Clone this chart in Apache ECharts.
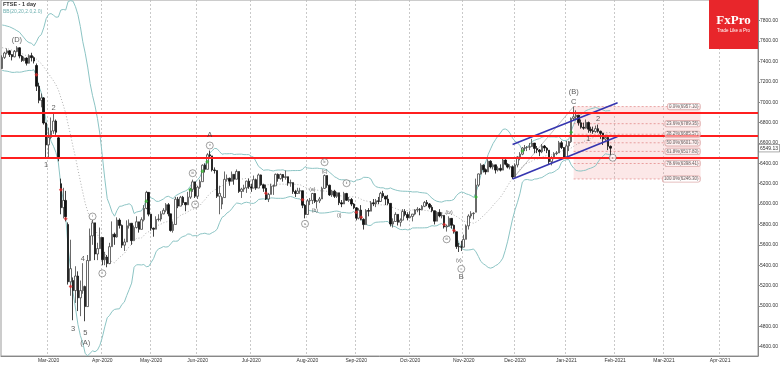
<!DOCTYPE html>
<html><head><meta charset="utf-8">
<script src="https://cdn.jsdelivr.net/npm/echarts@6/dist/echarts.min.js"></script>
<style>html,body{margin:0;padding:0;background:#fff}#c{width:782px;height:366px}</style>
</head><body><div id="c"></div>
<script>
// ---- calendar (UK trading days) ----
const startDate = '2020-02-04', endDate = '2021-04-26';
const holidays = ['2020-04-10','2020-04-13','2020-05-08','2020-05-25','2020-08-31','2020-12-25','2020-12-28','2021-01-01','2021-04-02','2021-04-05'];
const monthNames = ['Jan','Feb','Mar','Apr','May','Jun','Jul','Aug','Sep','Oct','Nov','Dec'];
// closes of the 20 sessions before the first visible candle (for BB warm-up)
const warmupCloses = [7573,7575,7598,7588,7618,7622,7642,7610,7675,7651,7642,7571,7507,7586,7412,7481,7484,7381,7286,7326];
// ---- daily OHLC, 2020-02-04 .. 2021-01-28 ----
const opens = [
7330,7440,7483,7504,7467,7446,7499,7534,7453,7409,7433,7382,7457,7437,7360,7157,7018,7042,6796,
6581,6654,6718,6815,6650,6200,5965,6036,5800,5237,5250,5151,5294,5080,5151,5191,4994,5446,5688,5816,5510,5563,
5672,5454,5480,5416,5582,5704,5678,5843,5791,5597,5628,5787,5812,5641,5770,5826,5752,5847,5958,6115,
5901,5763,5753,5849,5853,5904,5939,5994,5904,5741,5800,6048,5980,6067,6015,5993,6068,6145,6218,
6077,6166,6220,6382,6341,6484,6473,6335,6329,6077,6000,6064,6243,6253,6224,6292,6244,6320,6124,6147,6159,6225,
6170,6157,6240,6157,6286,6189,6156,6050,6095,6176,6179,6292,6250,6290,6261,6269,6207,6211,6123,6104,6129,6131,5989,
5898,6032,6036,6104,6026,6032,6050,6154,6280,6185,6090,6127,6076,6111,6013,6001,6104,6037,6045,6000,
5963,5862,5941,5850,5799,5937,5930,6012,6003,6032,6026,6105,6078,6049,6007,5804,5829,5899,5822,5842,5927,5897,
5866,5879,5902,5942,5949,5946,5978,6016,6001,5969,5935,5832,5919,5884,5889,5776,5785,5860,5792,5729,5583,5581,
5577,5654,5786,5883,5906,5920,6186,6296,6382,6338,6316,6421,6365,6385,6334,6351,6333,6432,6391,6363,6367,
6266,6384,6463,6490,6550,6555,6558,6564,6599,6546,6531,6513,6570,6550,6529,6416,6453,6495,6502,6602,6555,
6460,6571,6612,6841,6857,6873,6798,6754,6745,6801,6735,6720,6712,6740,6715,6695,6638,6654,6567];
const highs = [
7460,7495,7528,7510,7470,7512,7550,7538,7462,7448,7440,7470,7485,7450,7380,7190,7085,7050,6800,
6750,6850,6890,6830,6660,6250,6160,6130,5820,5650,5280,5390,5340,5250,5420,5200,5500,5760,5850,5816,5620,5770,
5672,5530,5500,5620,5830,5720,5870,5860,5800,5660,5840,5850,5812,5790,5880,5826,5870,5990,6130,6115,
5901,5770,5880,5900,5930,5960,6010,6010,5904,5830,6070,6070,6080,6080,6015,6120,6160,6240,6218,
6180,6240,6390,6400,6500,6525,6473,6360,6329,6180,6080,6320,6290,6260,6320,6292,6340,6320,6160,6190,6230,6250,
6200,6280,6250,6300,6290,6200,6190,6110,6200,6190,6300,6300,6300,6295,6330,6269,6240,6211,6140,6160,6160,6131,6000,
6050,6060,6110,6110,6040,6070,6170,6290,6280,6190,6140,6140,6120,6111,6040,6120,6110,6070,6060,6010,
5970,5960,5990,5860,5950,5960,6030,6050,6050,6070,6120,6130,6080,6090,6007,5860,5920,5899,5860,5950,5950,5920,
5930,5900,5950,5970,5960,5990,6030,6040,6010,5990,5935,5930,5950,5920,5889,5800,5880,5860,5800,5729,5620,5640,
5700,5800,5900,5930,5920,6250,6300,6400,6390,6350,6440,6430,6400,6385,6370,6390,6460,6440,6400,6390,6380,
6400,6470,6510,6560,6580,6570,6600,6640,6599,6570,6540,6590,6580,6560,6529,6470,6510,6520,6620,6620,6560,
6620,6620,6850,6957,6920,6873,6830,6800,6830,6810,6760,6760,6770,6780,6720,6700,6680,6665,6575];
const lows = [
7326,7425,7470,7444,7410,7440,7490,7430,7395,7400,7360,7380,7400,7380,7110,6990,6950,6780,6450,
6460,6640,6690,6680,6420,5900,5860,5830,5210,5100,4860,5030,4950,4900,5120,4850,4994,5440,5600,5450,5450,5560,
5400,5400,5380,5410,5580,5600,5670,5760,5570,5540,5628,5760,5600,5641,5760,5720,5752,5830,5950,5880,
5740,5680,5753,5830,5830,5900,5920,5880,5730,5720,5800,5960,5980,5990,5930,5993,6050,6120,6060,
6050,6150,6220,6310,6341,6450,6320,6300,6060,5900,5950,6064,6220,6180,6224,6190,6244,6110,6060,6120,6110,6150,
6120,6157,6140,6157,6180,6120,6040,6020,6095,6090,6179,6220,6240,6220,6240,6180,6170,6100,6070,6100,6100,5960,5860,
5898,5990,6000,6010,5960,6010,6050,6150,6160,6080,6070,6060,6060,5990,5970,6001,6030,6020,5980,5950,
5840,5850,5840,5750,5799,5880,5930,5980,5970,6000,6020,6060,5990,5990,5780,5770,5829,5790,5780,5842,5880,5840,
5860,5830,5890,5920,5890,5940,5970,5980,5950,5920,5800,5832,5870,5860,5760,5730,5780,5760,5710,5560,5530,5540,
5577,5654,5750,5860,5850,5920,6170,6290,6310,6290,6316,6350,6340,6300,6320,6320,6333,6380,6350,6340,6246,
6266,6360,6430,6480,6520,6520,6530,6560,6500,6500,6470,6500,6520,6500,6390,6380,6440,6480,6502,6540,6450,
6460,6520,6600,6820,6830,6770,6740,6730,6740,6700,6700,6690,6700,6700,6640,6580,6620,6530,6447];
const closes = [
7439,7483,7504,7467,7446,7499,7534,7453,7409,7433,7382,7457,7437,7404,7157,7018,7042,6796,6581,
6654,6718,6815,6705,6463,5965,6036,5876,5237,5366,5151,5294,5080,5151,5191,4994,5446,5688,5816,5510,5563,5672,
5454,5480,5416,5582,5704,5678,5843,5791,5597,5628,5787,5812,5641,5770,5826,5752,5847,5958,6115,5901,
5763,5753,5849,5853,5904,5939,5994,5904,5741,5800,6048,5980,6067,6015,5993,6068,6145,6218,6077,
6166,6220,6382,6341,6484,6473,6335,6329,6077,6105,6064,6243,6253,6224,6292,6244,6320,6124,6147,6159,6225,6170,
6157,6240,6157,6286,6189,6156,6050,6095,6176,6179,6292,6250,6290,6261,6269,6207,6211,6123,6104,6129,6131,5989,5898,
6032,6036,6104,6026,6032,6050,6154,6280,6185,6090,6127,6076,6111,6013,6001,6104,6037,6045,6000,5963,
5862,5941,5850,5799,5937,5930,6012,6003,6032,6026,6105,6078,6049,6007,5804,5829,5899,5822,5842,5927,5897,5866,
5879,5902,5942,5949,5946,5978,6016,6001,5969,5935,5832,5919,5884,5889,5776,5785,5860,5792,5729,5583,5581,5577,
5654,5786,5883,5906,5910,6186,6296,6382,6338,6316,6421,6365,6385,6334,6351,6333,6432,6391,6363,6367,6266,
6384,6463,6490,6550,6555,6558,6564,6599,6546,6531,6513,6570,6550,6529,6416,6453,6495,6502,6602,6555,6460,
6571,6612,6841,6857,6873,6798,6754,6745,6801,6735,6720,6712,6740,6715,6695,6638,6654,6567,6549];
// ---- axis ticks ----
const yTickValues = [4600,4800,5000,5200,5400,5600,5800,6000,6200,6400,6600,6800,7000,7200,7400,7600,7800];
// ---- drawn objects (index = trading-day index from 2020-02-04) ----
const redLevels = [6895, 6667, 6451];
const fibNames = ['0.0%','23.6%','38.2%','50.0%','61.8%','78.6%','100.0%'];
const fibLevels = [6957.10, 6789.35, 6685.57, 6601.70, 6517.83, 6398.41, 6246.30];
const fibStartIdx = 234, fibEndIdx = 286;
const channelLower = [[209, 6246.3], [252, 6664]];
const channelUpper = [[209, 6585], [252, 6995]];
const waveLine = [[209, 6246.3], [234, 6957]];
const currentPrice = 6549.13;
const bigLabels = [[6,7607,'(D)'],[18,6389,'1'],[21,6939,'2'],[29,4777,'3'],[33,5465,'4'],[34,4738,'5'],[34,4639,'(A)'],
  [85,6674,'A'],[188,5281,'B'],[234,7001,'C'],[234,7099,'(B)'],[244,6831,'2'],[240,6641,'1']];
const circleLabels = [[37,5878,'i'],[41,5320,'ii'],[78,6303,'iii'],[79,5996,'iv'],[85,6575,'v'],[124,5806,'a'],
  [132,6411,'b'],[141,6205,'ii'],[182,5654,'iii'],[188,5364,'c'],[250,6455,'c']];
const smallLabels = [[127,6143,'(a)'],[128,5937,'(b)'],[132,6323,'(c)'],[138,5887,'(i)'],[183,5920,'(iv)'],[187,5445,'(v)']];
const redMarks = [[14,7270],[24,6140],[26,5855],[28,5190],[108,6107],[123,6042],[145,5920],[147,5870],[181,5799],[185,5740]];
const greenMarks = [[59,6028],[77,6140],[82,6323],[84,6415],[194,6070],[213,6520],[233,6706]];

// ---- build ----
const dates = [];
for (let d = new Date(startDate + 'T00:00:00Z'); d <= new Date(endDate + 'T00:00:00Z'); d.setUTCDate(d.getUTCDate() + 1)) {
  const w = d.getUTCDay(); const s = d.toISOString().slice(0, 10);
  if (w === 0 || w === 6 || holidays.includes(s)) continue;
  dates.push(s);
}
const isMonthStart = (i) => i > 0 && dates[i].slice(5, 7) !== dates[i - 1].slice(5, 7);
const candleData = closes.map((c, i) => [opens[i], c, lows[i], highs[i]]);
const allCloses = warmupCloses.concat(closes);
const bbUp = [], bbMid = [], bbLow = [];
for (let i = 0; i < closes.length; i++) {
  const w = allCloses.slice(i + 1, i + 21);
  const m = w.reduce((a, b) => a + b, 0) / w.length;
  const sd = Math.sqrt(w.reduce((a, b) => a + (b - m) * (b - m), 0) / w.length);
  bbUp.push(m + 2 * sd); bbMid.push(m); bbLow.push(m - 2 * sd);
}
const P = (p) => [dates[p[0]], p[1]];
const FONT = '"Liberation Sans", Arial, sans-serif';

const fibLineSeries = fibLevels.map((l) => ({
  type: 'line', data: [[dates[fibStartIdx], l], [dates[fibEndIdx], l]], symbol: 'none', silent: true, z: 3,
  lineStyle: { color: 'rgba(215,90,90,0.65)', width: 0.8, type: [2, 2] }
}));
fibLineSeries[0].markArea = { silent: true, itemStyle: { color: 'rgba(240,150,150,0.22)' },
  data: [[{ xAxis: dates[fibStartIdx], yAxis: fibLevels[0] }, { xAxis: dates[fibEndIdx], yAxis: fibLevels[6] }]] };

const option = {
  animation: false,
  grid: { left: 1, right: 24, top: 0, bottom: 10, show: true, borderColor: '#999', borderWidth: 1, backgroundColor: '#fff' },
  xAxis: {
    type: 'category', data: dates, boundaryGap: true,
    axisLine: { lineStyle: { color: '#888' } },
    axisTick: { interval: (i) => isMonthStart(i), length: 2, lineStyle: { color: '#888' } },
    axisLabel: { interval: (i) => isMonthStart(i), fontSize: 5, color: '#333', margin: 2, fontFamily: FONT,
      formatter: (v) => monthNames[+v.slice(5, 7) - 1] + '-' + v.slice(0, 4) },
    splitLine: { show: true, interval: (i) => isMonthStart(i), lineStyle: { color: '#bbb', width: 0.8, type: [2, 2] } }
  },
  yAxis: {
    type: 'value', position: 'right', min: 4509, max: 8003, scale: true,
    axisLine: { show: true, lineStyle: { color: '#888' } },
    axisTick: { show: true, customValues: yTickValues, length: 2, lineStyle: { color: '#888' } },
    axisLabel: { customValues: yTickValues, fontSize: 5, color: '#333', margin: 2, fontFamily: FONT,
      formatter: (v) => v.toFixed(2) },
    splitLine: { show: false }
  },
  series: [
    { type: 'line', data: bbUp, symbol: 'none', silent: true, z: 1, lineStyle: { color: '#8cc4c4', width: 1 } },
    { type: 'line', data: bbLow, symbol: 'none', silent: true, z: 1, lineStyle: { color: '#8cc4c4', width: 1 } },
    { type: 'line', data: bbMid, symbol: 'none', silent: true, z: 1, lineStyle: { color: '#9a9a9a', width: 0.8, type: [1, 2] } },
    ...fibLineSeries,
    { type: 'line', data: waveLine.map(P), symbol: 'none', silent: true, z: 4, lineStyle: { color: '#999', width: 0.6 } },
    {
      type: 'candlestick', data: candleData, barWidth: 2, z: 5,
      itemStyle: { color: '#ffffff', color0: '#111111', borderColor: '#444', borderColor0: '#111', borderWidth: 0.8 },
      markLine: {
        symbol: ['none', 'none'], silent: true, z: 8, animation: false,
        data: redLevels.map((v) => ({ yAxis: v, lineStyle: { color: '#ff1f1f', width: 2, type: 'solid' }, label: { show: false } }))
          .concat([{ yAxis: currentPrice, lineStyle: { color: 'transparent', width: 0 },
            label: { show: true, position: 'end', distance: 1, formatter: currentPrice.toFixed(2), fontSize: 5, color: '#333',
              fontFamily: FONT, backgroundColor: '#fff', borderColor: '#777', borderWidth: 0.6, padding: [1, 1] } }])
      }
    },
    { type: 'line', data: channelLower.map(P), symbol: 'none', silent: true, z: 6, lineStyle: { color: '#3535b0', width: 1.6 } },
    { type: 'line', data: channelUpper.map(P), symbol: 'none', silent: true, z: 6, lineStyle: { color: '#3535b0', width: 1.6 } },
    { type: 'scatter', data: redMarks.map(P), symbol: 'diamond', symbolSize: 4, z: 7, itemStyle: { color: '#e02a2a' } },
    { type: 'scatter', data: greenMarks.map(P), symbol: 'diamond', symbolSize: 4, z: 7, itemStyle: { color: '#2fb52f' } },
    { type: 'scatter', data: bigLabels.map((b) => ({ value: [dates[b[0]], b[1]], label: { formatter: b[2] } })),
      symbolSize: 1, z: 9, itemStyle: { color: 'transparent' },
      label: { show: true, position: 'inside', fontSize: 7.5, color: '#333', fontFamily: FONT } },
    { type: 'scatter', data: circleLabels.map((b) => ({ value: [dates[b[0]], b[1]], label: { formatter: b[2] } })),
      symbol: 'circle', symbolSize: 7, z: 9, itemStyle: { color: '#fff', borderColor: '#555', borderWidth: 0.7 },
      label: { show: true, position: 'inside', fontSize: 3.5, color: '#333', fontFamily: FONT } },
    { type: 'scatter', data: smallLabels.map((b) => ({ value: [dates[b[0]], b[1]], label: { formatter: b[2] } })),
      symbolSize: 1, z: 9, itemStyle: { color: 'transparent' },
      label: { show: true, position: 'inside', fontSize: 5, color: '#333', fontFamily: FONT } },
    { type: 'scatter', data: fibLevels.map((l, k) => ({ value: [dates[fibEndIdx], l], label: { formatter: fibNames[k] + '(' + l.toFixed(2) + ')' } })),
      symbolSize: 1, z: 9, itemStyle: { color: 'transparent' },
      label: { show: true, position: 'left', distance: 0, fontSize: 4.5, color: '#444', fontFamily: FONT,
        backgroundColor: 'rgba(255,255,255,0.55)', borderColor: '#d79a9a', borderWidth: 0.6, borderRadius: 2, padding: [0.5, 1.5] } }
  ],
  graphic: [
    { type: 'text', left: 3, top: 1, z: 100, style: { text: 'FTSE - 1 day', font: 'bold 5.5px ' + FONT, fill: '#333' } },
    { type: 'text', left: 3, top: 9, z: 100, style: { text: 'BB(20,20,2.0,2.0)', font: '5px ' + FONT, fill: '#6fb0b0' } },
    { type: 'rect', z: 100, shape: { x: 709, y: 0, width: 49, height: 49 }, style: { fill: '#e8262b' } },
    { type: 'text', z: 101, x: 733.5, y: 21, style: { text: 'FxPro', font: 'bold 13px "Liberation Serif", "DejaVu Serif", serif', fill: '#fff', align: 'center', verticalAlign: 'middle' } },
    { type: 'text', z: 101, x: 733.5, y: 31, style: { text: 'Trade Like a Pro', font: '4.5px ' + FONT, fill: '#fff', align: 'center', verticalAlign: 'middle' } }
  ]
};
const chart = echarts.init(document.getElementById('c'), null, { renderer: 'canvas' });
chart.setOption(option);
</script>
</body></html>
